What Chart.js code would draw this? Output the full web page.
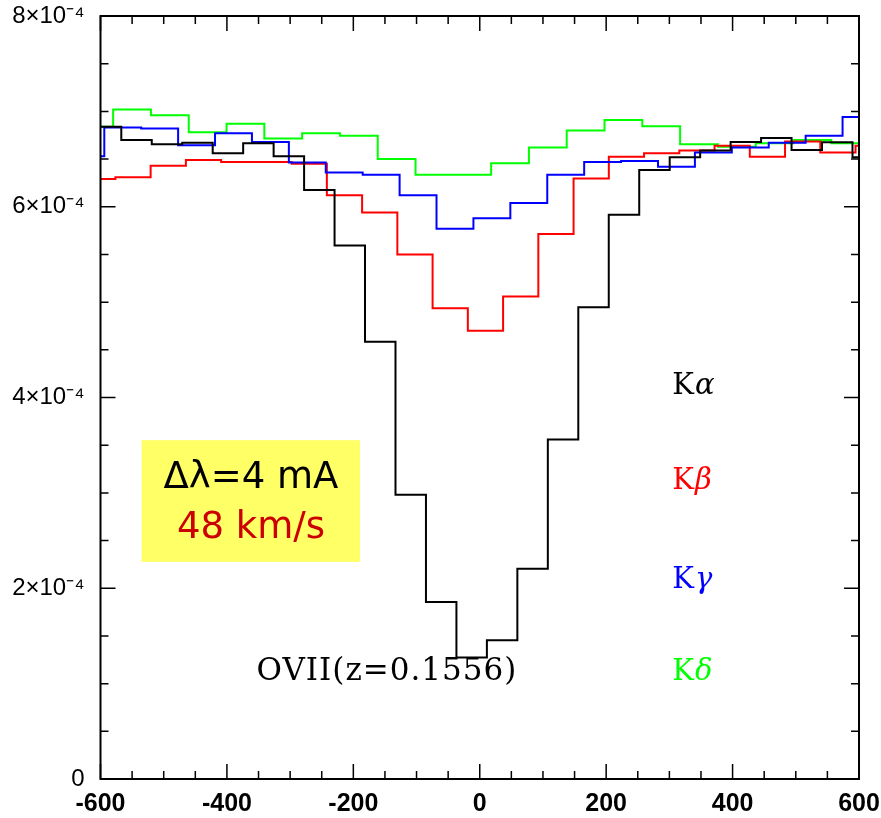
<!DOCTYPE html>
<html>
<head>
<meta charset="utf-8">
<script src="https://cdn.jsdelivr.net/npm/chart.js@4/dist/chart.umd.min.js"></script>
<style>
  html, body { margin: 0; padding: 0; background: #ffffff; }
  #wrap { width: 881px; height: 818px; }
</style>
</head>
<body>
<div id="wrap"><canvas id="c" width="881" height="818"></canvas></div>
<script>
// ---------------- DATA ----------------
// Velocity bins (km/s): first bin edge and bin width for each line
const kaBinStart = -615.3, kaBinWidth = 48.2;
const kbBinStart = -632.2, kbBinWidth = 55.76;
const kgBinStart = -652.4, kgBinWidth = 58.4;
const kdBinStart = -639.8, kdBinWidth = 59.8;

// Flux per bin
const kaValues = [6.84e-4, 6.70e-4, 6.655e-4, 6.67e-4, 6.56e-4, 6.665e-4, 6.53e-4, 6.175e-4, 5.595e-4,
  4.585e-4, 2.98e-4, 1.855e-4, 1.275e-4, 1.455e-4, 2.205e-4, 3.56e-4, 4.945e-4, 5.915e-4, 6.385e-4,
  6.52e-4, 6.59e-4, 6.68e-4, 6.72e-4, 6.595e-4, 6.675e-4, 6.52e-4];
const kbValues = [6.29e-4, 6.31e-4, 6.43e-4, 6.49e-4, 6.47e-4, 6.47e-4, 6.45e-4, 6.12e-4, 5.94e-4,
  5.50e-4, 4.935e-4, 4.70e-4, 5.06e-4, 5.715e-4, 6.295e-4, 6.525e-4, 6.56e-4, 6.59e-4, 6.64e-4,
  6.525e-4, 6.685e-4, 6.57e-4, 6.64e-4];
const kgValues = [6.53e-4, 6.83e-4, 6.82e-4, 6.645e-4, 6.77e-4, 6.68e-4, 6.465e-4, 6.36e-4, 6.335e-4,
  6.12e-4, 5.77e-4, 5.88e-4, 6.04e-4, 6.335e-4, 6.47e-4, 6.48e-4, 6.42e-4, 6.57e-4, 6.62e-4,
  6.67e-4, 6.745e-4, 6.94e-4];
const kdValues = [6.84e-4, 7.02e-4, 6.96e-4, 6.78e-4, 6.87e-4, 6.715e-4, 6.77e-4, 6.745e-4, 6.50e-4,
  6.335e-4, 6.335e-4, 6.455e-4, 6.62e-4, 6.80e-4, 6.91e-4, 6.845e-4, 6.655e-4, 6.63e-4, 6.665e-4,
  6.70e-4, 6.665e-4];

// Axis tick labels
const xTickLabels = ['-600', '-400', '-200', '0', '200', '400', '600'];
const yTickLabels = ['0', '2\u00d710\u207b\u2074', '4\u00d710\u207b\u2074', '6\u00d710\u207b\u2074', '8\u00d710\u207b\u2074'];

// Series names and annotation texts
const seriesNames = ['K\u03b1', 'K\u03b2', 'K\u03b3', 'K\u03b4'];
const boxLine1 = '\u0394\u03bb=4 mA';
const boxLine2 = '48 km/s';
const ionLabel = 'OVII(z=0.1556)';

// ---------------- BUILD ----------------
function histPoints(start, width, vals) {
  const pts = vals.map((v, i) => ({ x: start + i * width, y: v }));
  pts.push({ x: start + vals.length * width, y: vals[vals.length - 1] });
  return pts;
}

const colors = ['#000000', '#ff0000', '#0000ff', '#00ff00'];

function ds(label, pts, color) {
  return {
    label, data: pts, borderColor: color, backgroundColor: color,
    borderWidth: 2, pointRadius: 0, stepped: 'before', fill: false, tension: 0
  };
}

// Frame with inward ticks on all four sides
const frameTicks = {
  id: 'frameTicks',
  afterDatasetsDraw(chart) {
    const { ctx, chartArea: a, scales: { x, y } } = chart;
    ctx.save();
    ctx.strokeStyle = '#000';
    ctx.lineWidth = 1.5;
    ctx.beginPath();
    for (let v = -600; v <= 600; v += 50) {
      const px = x.getPixelForValue(v);
      const L = (v % 200 === 0) ? 15 : 8;
      ctx.moveTo(px, a.bottom); ctx.lineTo(px, a.bottom - L);
      ctx.moveTo(px, a.top); ctx.lineTo(px, a.top + L);
    }
    for (let k = 0; k <= 16; k++) {
      const py = y.getPixelForValue(k * 0.5e-4);
      const L = (k % 4 === 0) ? 15 : 8;
      ctx.moveTo(a.left, py); ctx.lineTo(a.left + L, py);
      ctx.moveTo(a.right, py); ctx.lineTo(a.right - L, py);
    }
    ctx.stroke();
    ctx.lineWidth = 2;
    ctx.strokeRect(a.left, a.top, a.right - a.left, a.bottom - a.top);
    ctx.restore();
  }
};

// Annotations (box, labels)
const annotations = {
  id: 'annotations',
  beforeDatasetsDraw(chart) {
    const { ctx, scales: { x, y } } = chart;
    ctx.save();
    const x0 = x.getPixelForValue(-535), x1 = x.getPixelForValue(-189.5);
    const y0 = y.getPixelForValue(3.553e-4), y1 = y.getPixelForValue(2.276e-4);
    ctx.fillStyle = '#ffff66';
    ctx.fillRect(x0, y0, x1 - x0, y1 - y0);
    ctx.restore();
  },
  afterDraw(chart) {
    const { ctx, scales: { x, y } } = chart;
    ctx.save();
    ctx.textBaseline = 'middle';
    ctx.textAlign = 'center';
    const cx = x.getPixelForValue(-362);
    ctx.font = '37px "DejaVu Sans", Verdana, sans-serif';
    ctx.fillStyle = '#000000';
    ctx.fillText(boxLine1, cx, y.getPixelForValue(3.151e-4));
    ctx.fillStyle = '#cc0000';
    ctx.fillText(boxLine2, cx, y.getPixelForValue(2.627e-4));

    ctx.fillStyle = '#000000';
    ctx.font = '31px "DejaVu Serif", serif';
    if ('letterSpacing' in ctx) ctx.letterSpacing = '1px';
    ctx.fillText(ionLabel, x.getPixelForValue(-146.8), y.getPixelForValue(1.119e-4));
    if ('letterSpacing' in ctx) ctx.letterSpacing = '0px';

    const labelY = [4.119e-4, 3.115e-4, 2.084e-4, 1.122e-4];
    ctx.textAlign = 'left';
    const lx = x.getPixelForValue(304.6);
    seriesNames.forEach((name, i) => {
      const py = y.getPixelForValue(labelY[i]);
      ctx.fillStyle = colors[i];
      ctx.font = '29px "DejaVu Serif", serif';
      const k = name.charAt(0);
      ctx.fillText(k, lx, py);
      const w = ctx.measureText(k).width;
      ctx.font = 'italic 29px "DejaVu Serif", serif';
      ctx.fillText(name.slice(1), lx + w + 1, py);
    });
    ctx.restore();
  }
};

new Chart(document.getElementById('c'), {
  type: 'line',
  data: {
    datasets: [
      ds(seriesNames[0], histPoints(kaBinStart, kaBinWidth, kaValues), colors[0]),
      ds(seriesNames[2], histPoints(kgBinStart, kgBinWidth, kgValues), colors[2]),
      ds(seriesNames[1], histPoints(kbBinStart, kbBinWidth, kbValues), colors[1]),
      ds(seriesNames[3], histPoints(kdBinStart, kdBinWidth, kdValues), colors[3])
    ]
  },
  options: {
    responsive: false,
    animation: false,
    devicePixelRatio: 1,
    layout: { padding: { left: 0, right: 22, top: 16, bottom: 0 } },
    plugins: { legend: { display: false }, tooltip: { enabled: false } },
    scales: {
      x: {
        type: 'linear', min: -600, max: 600,
        grid: { display: false, drawTicks: false },
        border: { display: false },
        ticks: {
          stepSize: 200, autoSkip: false, maxRotation: 0, padding: 10,
          color: '#000',
          font: { family: '"Liberation Sans", Arial, sans-serif', size: 25, weight: 'bold' },
          callback: (v, i) => xTickLabels[i] !== undefined ? xTickLabels[i] : ''
        },
        afterFit: (s) => { s.height = 39; s.paddingLeft = 0; s.paddingRight = 0; }
      },
      y: {
        type: 'linear', min: 0, max: 8e-4,
        grid: { display: false, drawTicks: false },
        border: { display: false },
        ticks: {
          stepSize: 2e-4, padding: 16, color: '#000',
          font: { family: '"Liberation Sans", Arial, sans-serif', size: 24 },
          callback: (v, i) => yTickLabels[i] !== undefined ? yTickLabels[i] : ''
        },
        afterFit: (s) => { s.width = 100.5; s.paddingTop = 0; s.paddingBottom = 0; }
      }
    }
  },
  plugins: [annotations, frameTicks]
});
</script>
</body>
</html>
